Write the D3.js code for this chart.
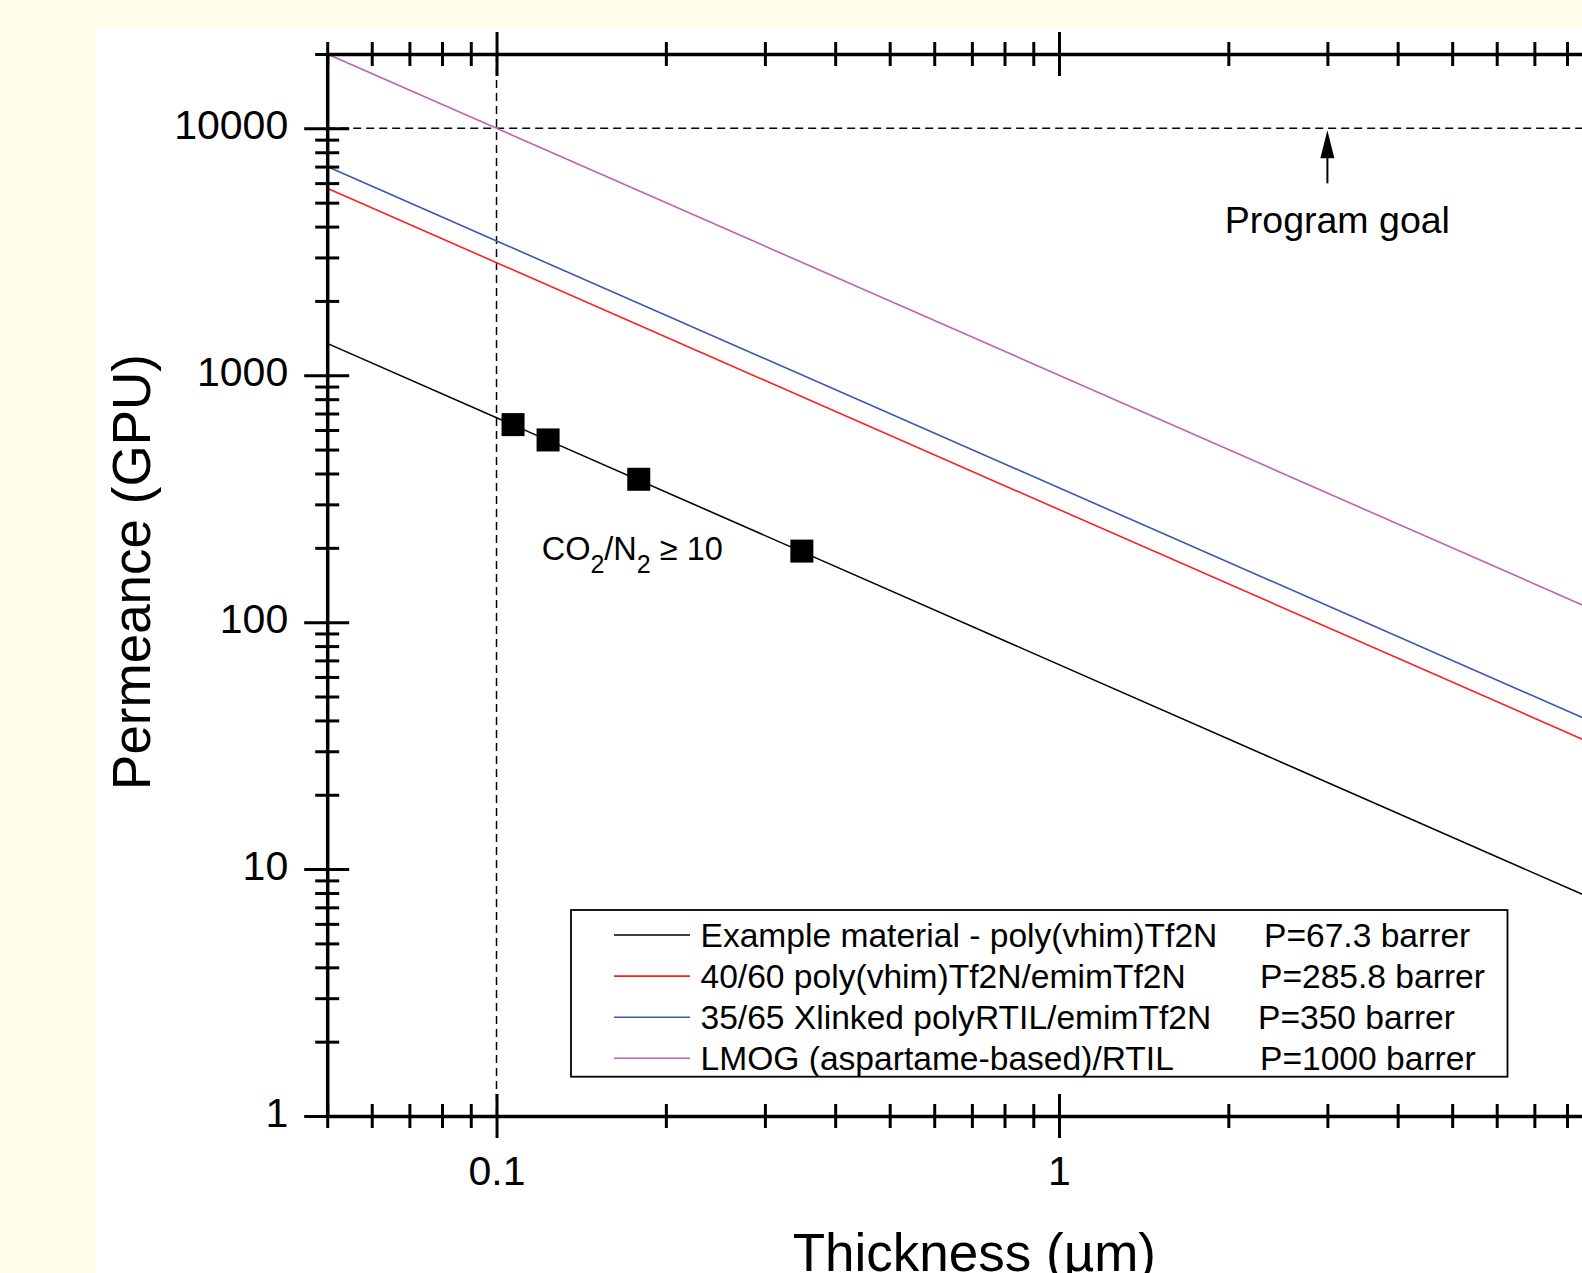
<!DOCTYPE html>
<html><head><meta charset="utf-8">
<script src="https://cdn.jsdelivr.net/npm/d3@7"></script>
<style>
body{margin:0;background:#fffde8;overflow:hidden}
text{font-family:"Liberation Sans",Arial,sans-serif;fill:#000}
</style>
</head><body>
<svg id="c" width="1582" height="1273"></svg>
<script>
// ---- data ----
const seriesNames = ["Example material - poly(vhim)Tf2N","40/60 poly(vhim)Tf2N/emimTf2N","35/65 Xlinked polyRTIL/emimTf2N","LMOG (aspartame-based)/RTIL"];
const seriesPLabels = ["P=67.3 barrer","P=285.8 barrer","P=350 barrer","P=1000 barrer"];
const seriesColors = ["#000000","#ff2020","#3a58b0","#c060b4"];
const lineThickness = [0.05, 10];
const blackPermeance = [1346, 6.73];
const redPermeance = [5716, 28.6];
const bluePermeance = [7000, 35];
const magentaPermeance = [20000, 100];
const pointThickness = [0.107, 0.1235, 0.179, 0.349];
const pointPermeance = [631, 547, 379, 194];
const xMajorTicks = [0.1, 1, 10];
const xTickLabels = ["0.1", "1", ""];
const yMajorTicks = [1, 10, 100, 1000, 10000];
const yTickLabels = ["1", "10", "100", "1000", "10000"];
const goalPermeance = 10000;
const goalThickness = 0.1;
const arrowThickness = 3;

const linePermeance = [blackPermeance, redPermeance, bluePermeance, magentaPermeance];

// ---- layout ----
const svg = d3.select("#c");
svg.append("rect").attr("x",96).attr("y",28).attr("width",1582-96).attr("height",1273-28).attr("fill","#fff");

const xDom = [0.05, 10], yDom = [1, 20000];
const x = d3.scaleLog().domain(xDom).range([327.2, 1621.5]);
const y = d3.scaleLog().domain(yDom).range([1116, 54]);

function minorTicks(dom){
  const out=[];
  for(let e=-3;e<6;e++){ for(let m=2;m<=9;m++){ const v=m*Math.pow(10,e); if(v>=dom[0]*0.999 && v<=dom[1]*1.001) out.push(v);} }
  return out;
}
const xMinor = minorTicks(xDom), yMinor = minorTicks(yDom);
const isMajor = (arr,v)=>arr.some(a=>Math.abs(a-v)/a<1e-6);

// dashed reference lines
svg.append("line").attr("x1",x(goalThickness)).attr("x2",x(goalThickness)).attr("y1",y(yDom[1])).attr("y2",y(yDom[0]))
  .attr("stroke","#000").attr("stroke-width",1.5).attr("stroke-dasharray","8,5");
svg.append("line").attr("x1",x(xDom[0])).attr("x2",x(xDom[1])).attr("y1",y(goalPermeance)).attr("y2",y(goalPermeance))
  .attr("stroke","#000").attr("stroke-width",1.5).attr("stroke-dasharray","8,5");

// series lines
const lineGen = d3.line().x(d=>x(d[0])).y(d=>y(d[1]));
linePermeance.forEach((vals,i)=>{
  svg.append("path").datum(lineThickness.map((t,j)=>[t,vals[j]])).attr("d",lineGen)
    .attr("fill","none").attr("stroke",seriesColors[i]).attr("stroke-width",1.6);
});

// points
svg.selectAll("rect.pt").data(pointThickness.map((t,i)=>[t,pointPermeance[i]])).enter().append("rect")
  .attr("class","pt").attr("x",d=>x(d[0])-11.5).attr("y",d=>y(d[1])-11.5).attr("width",23).attr("height",23).attr("fill","#000");

// axes
const xAll = xMajorTicks.concat(xMinor).sort((a,b)=>a-b);
const yAll = yMajorTicks.concat(yMinor).sort((a,b)=>a-b);

function styleAxis(g, horiz, majors){
  g.select(".domain").attr("stroke","#000").attr("stroke-width",3.5);
  g.selectAll(".tick line").attr("stroke","#000").attr("stroke-width",3)
    .each(function(d){
      const big = isMajor(majors,d);
      const a = big?22:12, b = big?(horiz?22:23):12;
      if(horiz) d3.select(this).attr("y1",-a).attr("y2",b);
      else d3.select(this).attr("x1",-b).attr("x2",a);
    });
}

const gB = svg.append("g").attr("transform",`translate(0,${y(1)})`)
  .call(d3.axisBottom(x).tickValues(xAll).tickSizeOuter(0).tickFormat(d=>{const k=xMajorTicks.findIndex(a=>Math.abs(a-d)/a<1e-6);return k>=0?xTickLabels[k]:"";}));
styleAxis(gB,true,xMajorTicks);
gB.selectAll(".tick text").attr("y",69).attr("dy",0).style("font-size","41px").style("font-family",'"Liberation Sans",Arial,sans-serif');

const gT = svg.append("g").attr("transform",`translate(0,${y(yDom[1])})`)
  .call(d3.axisTop(x).tickValues(xAll).tickSizeOuter(0).tickFormat(""));
styleAxis(gT,true,xMajorTicks);

const gL = svg.append("g").attr("transform",`translate(${x(xDom[0])},0)`)
  .call(d3.axisLeft(y).tickValues(yAll).tickSizeOuter(0).tickFormat(d=>{const k=yMajorTicks.findIndex(a=>Math.abs(a-d)/a<1e-6);return k>=0?yTickLabels[k]:"";}));
styleAxis(gL,false,yMajorTicks);
gL.selectAll(".tick text").attr("x",-39).attr("dy",0).attr("y",10).style("font-size","41px").style("font-family",'"Liberation Sans",Arial,sans-serif');

const gR = svg.append("g").attr("transform",`translate(${x(xDom[1])},0)`)
  .call(d3.axisRight(y).tickValues(yAll).tickSizeOuter(0).tickFormat(""));
styleAxis(gR,false,yMajorTicks);

// axis titles
svg.append("text").attr("transform","translate(150,572) rotate(-90)").attr("text-anchor","middle")
  .style("font-size","53px").text("Permeance (GPU)");
svg.append("text").attr("x",(x(xDom[0])+x(xDom[1]))/2).attr("y",1271).attr("text-anchor","middle")
  .style("font-size","53px").text("Thickness (\u00b5m)");

// program goal annotation
const ax = x(arrowThickness), ay = y(goalPermeance);
svg.append("line").attr("x1",ax).attr("x2",ax).attr("y1",ay+25).attr("y2",ay+55).attr("stroke","#000").attr("stroke-width",2);
svg.append("path").attr("d",`M${ax},${ay+2} L${ax-7},${ay+30} L${ax+7},${ay+30} Z`).attr("fill","#000");
svg.append("text").attr("x",ax+10).attr("y",233).attr("text-anchor","middle").style("font-size","37.5px").text("Program goal");

// CO2/N2 label
const co = svg.append("text").attr("x",541.7).attr("y",559.5).style("font-size","32.5px");
co.append("tspan").text("CO");
co.append("tspan").attr("dy",13).style("font-size","25px").text("2");
co.append("tspan").attr("dy",-13).text("/N");
co.append("tspan").attr("dy",13).style("font-size","25px").text("2");
co.append("tspan").attr("dy",-13).text(" \u2265 10");

// legend
svg.append("rect").attr("x",571).attr("y",910).attr("width",936.5).attr("height",166.7)
  .attr("fill","#fff").attr("stroke","#000").attr("stroke-width",1.8);
const pX = [1264,1260,1258,1260];
seriesNames.forEach((nm,i)=>{
  const ly = 935 + i*41.1;
  svg.append("line").attr("x1",614).attr("x2",690).attr("y1",ly).attr("y2",ly).attr("stroke",seriesColors[i]).attr("stroke-width",1.6);
  svg.append("text").attr("x",700.5).attr("y",ly+11.7).style("font-size","33.6px").text(nm);
  svg.append("text").attr("x",pX[i]).attr("y",ly+11.7).style("font-size","33.6px").text(seriesPLabels[i]);
});
</script>
</body></html>
